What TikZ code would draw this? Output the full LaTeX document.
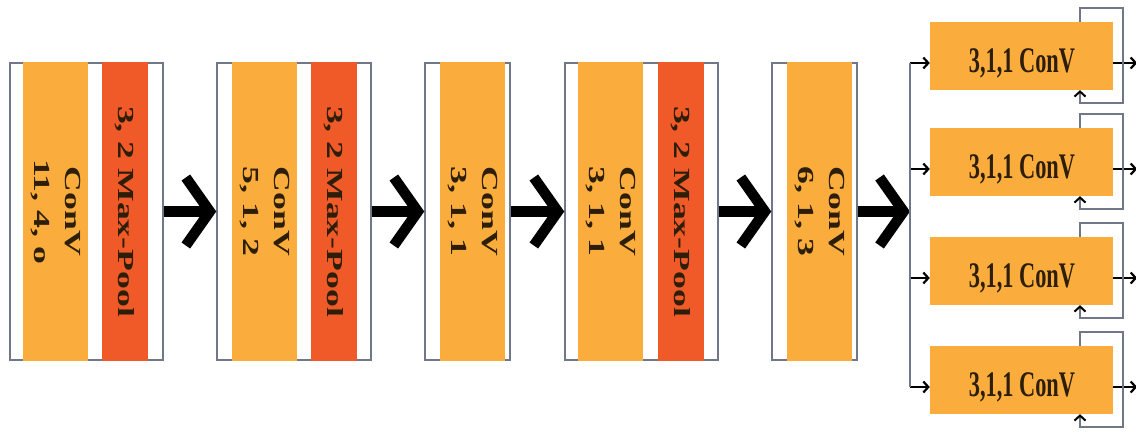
\documentclass[tikz,border=0pt]{standalone}
\usepackage{fontspec}
\setmainfont{Liberation Serif}
\usepackage{graphicx}
\usetikzlibrary{arrows.meta}

\definecolor{convorange}{RGB}{250,172,60}
\definecolor{poolred}{RGB}{239,90,40}
\definecolor{framegray}{RGB}{112,120,136}
\definecolor{inkbrown}{RGB}{45,30,10}

% text is stretched along its reading direction in the bars, squeezed in the boxes
\newcommand{\tall}[1]{\scalebox{1.55}[1]{#1}}
\newcommand{\narrowtxt}[1]{\scalebox{0.62}[1]{#1}}

\tikzset{
  stage/.style={draw=framegray, line width=1.5pt, fill=white, minimum width=#1, minimum height=297pt, inner sep=0pt},
  convbar/.style={fill=convorange, rotate=-90, minimum width=299pt, minimum height=65pt, inner sep=0pt, align=center, text=inkbrown, font=\fontsize{23}{31}\selectfont\bfseries},
  poolbar/.style={fill=poolred, rotate=-90, minimum width=299pt, minimum height=46pt, inner sep=0pt, text=inkbrown, font=\fontsize{23}{31}\selectfont\bfseries},
  convbox/.style={fill=convorange, minimum width=183pt, minimum height=68pt, inner sep=0pt},
  boxtext/.style={inner sep=0pt, text=inkbrown, font=\fontsize{36}{40}\selectfont\bfseries},
  bigarrow/.style={line width=10.5pt, -{Straight Barb[length=24pt, width=68pt]}},
  branch/.style={line width=2.2pt, -{Straight Barb[length=5pt, width=11pt]}},
  feed/.style={draw=framegray, line width=2pt}
}

\begin{document}
\begin{tikzpicture}[x=1pt,y=1pt,yscale=-1,xscale=1]
\useasboundingbox (0,0) rectangle (1136,439);

% Stage frames
\node[stage=153pt] (f1) at (86.5,211.5) {};
\node[stage=154pt] (f2) at (294,211.5) {};
\node[stage=85pt] (f3) at (467.5,211.5) {};
\node[stage=153pt] (f4) at (641.5,211.5) {};
\node[stage=85pt] (f5) at (814.5,211.5) {};

% Conv bars
\node[convbar] (c1) at (55.5,211.5) {\tall{ConV}\\\tall{11, 4, o}};
\node[convbar] (c2) at (264.5,211.5) {\tall{ConV}\\\tall{5, 1, 2}};
\node[convbar] (c3) at (472.5,211.5) {\tall{ConV}\\\tall{3, 1, 1}};
\node[convbar] (c4) at (610.5,211.5) {\tall{ConV}\\\tall{3, 1, 1}};
\node[convbar] (c5) at (819.5,211.5) {\tall{ConV}\\\tall{6, 1, 3}};

% Max-pool bars
\node[poolbar] (p1) at (125,211.5) {\tall{3, 2 Max-Pool}};
\node[poolbar] (p2) at (333.5,211.5) {\tall{3, 2 Max-Pool}};
\node[poolbar] (p4) at (680.5,211.5) {\tall{3, 2 Max-Pool}};

% Big arrows between stages
\coordinate (split) at (910,211.5);
\draw[bigarrow] (f1) -- (f2);
\draw[bigarrow] (f2) -- (f3);
\draw[bigarrow] (f3) -- (f4);
\draw[bigarrow] (f4) -- (f5);
\draw[bigarrow] (f5) -- (split);

% Parallel conv boxes
\foreach \i/\y in {1/56,2/162,3/271,4/380}{
  \node[convbox] (b\i) at (1021.5,\y) {};
  \node[boxtext] (t\i) at (1022,\y+7) {\narrowtxt{3,1,1 ConV}};
  \coordinate (in\i) at (910,\y+7);
  \coordinate (lp\i) at (1080,\y);
  \draw[branch] (in\i) -- (b\i.west |- in\i);
  \draw[branch] (b\i.east |- in\i) -- ++(24,0);
  \draw[feed, -{Straight Barb[length=5pt, width=11pt, color=black]}] (lp\i |- b\i.north) -- (1080,\y-48) -| (1123,\y+47) -| (lp\i |- b\i.south);
}
\draw[feed] (in1) -- (in4);

\end{tikzpicture}
\end{document}
